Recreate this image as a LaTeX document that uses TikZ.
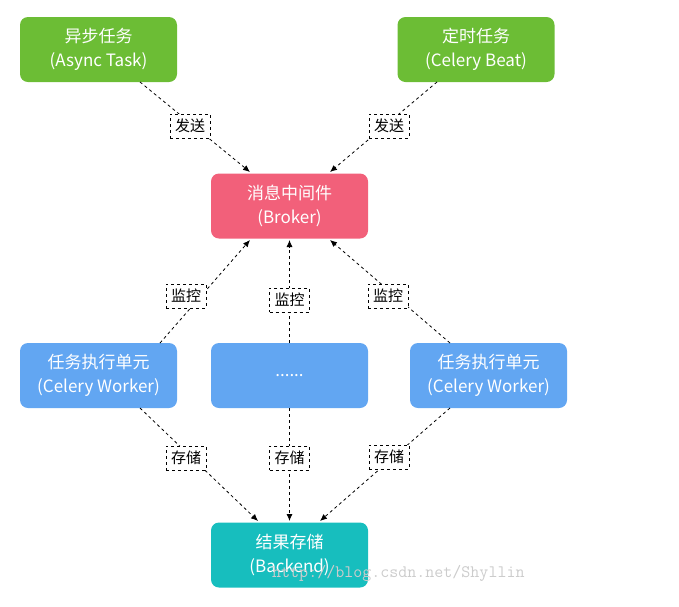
\documentclass[tikz,border=0pt]{standalone}
\usepackage{fontspec}
\setmainfont{Noto Sans CJK SC}
\usetikzlibrary{arrows.meta}
\definecolor{cg}{HTML}{6CBD35}
\definecolor{cp}{HTML}{F2607A}
\definecolor{cb}{HTML}{62A6F2}
\definecolor{ct}{HTML}{17BEBE}
\begin{document}
\begin{tikzpicture}[x=1pt,y=-1pt,
  box/.style={rounded corners=8pt,minimum width=157pt,minimum height=65pt,text=white,font=\fontsize{17}{24}\selectfont,align=center,inner sep=0pt},
  lab/.style={draw,dashed,fill=white,font=\fontsize{15}{17}\selectfont,inner sep=5pt},
  con/.style={dashed,thick,-{Latex[length=7pt,width=6pt]}}]
\useasboundingbox (0,0) rectangle (679,606);
\node[box,fill=cg] (a) at (98.5,49.5) {异步任务\\(Async Task)};
\node[box,fill=cg] (b) at (476,49.5) {定时任务\\(Celery Beat)};
\node[box,fill=cp] (k) at (289.5,206) {消息中间件\\(Broker)};
\node[box,fill=cb] (w1) at (98.5,375.5) {任务执行单元\\(Celery Worker)};
\node[box,fill=cb] (w2) at (289.5,375.5) {......};
\node[box,fill=cb] (w3) at (488.5,375.5) {任务执行单元\\(Celery Worker)};
\node[box,fill=ct] (e) at (289.5,555) {结果存储\\(Backend)};
\coordinate (a1) at (140,82); \coordinate (k1) at (250,172);
\coordinate (b1) at (437,82); \coordinate (k2) at (330,172);
\draw[con] (a1) -- (k1); \draw[con] (b1) -- (k2);
\coordinate (w1t) at (160,343); \coordinate (k3) at (250,240);
\coordinate (w2t) at (289.5,343); \coordinate (k4) at (289.5,240);
\coordinate (w3t) at (450,343); \coordinate (k5) at (330,240);
\draw[con] (w1t) -- (k3); \draw[con] (w2t) -- (k4); \draw[con] (w3t) -- (k5);
\coordinate (w1b) at (140,408); \coordinate (e1) at (258,521);
\coordinate (w2b) at (289.5,408); \coordinate (e2) at (289.5,521);
\coordinate (w3b) at (450,408); \coordinate (e3) at (320,521);
\draw[con] (w1b) -- (e1); \draw[con] (w2b) -- (e2); \draw[con] (w3b) -- (e3);
\node[lab] (l1) at (190,126) {发送};
\node[lab] (l2) at (389,126) {发送};
\node[lab] (l3) at (186,296) {监控};
\node[lab] (l4) at (289.5,300) {监控};
\node[lab] (l5) at (388,296) {监控};
\node[lab] (l6) at (186,458) {存储};
\node[lab] (l7) at (289.5,458) {存储};
\node[lab] (l8) at (389,457) {存储};
\node[text=gray!40,font=\ttfamily\fontsize{17.5}{18}\selectfont,anchor=west,inner sep=0pt] (wm) at (272,573) {http://blog.csdn.net/Shyllin};
\end{tikzpicture}
\end{document}
